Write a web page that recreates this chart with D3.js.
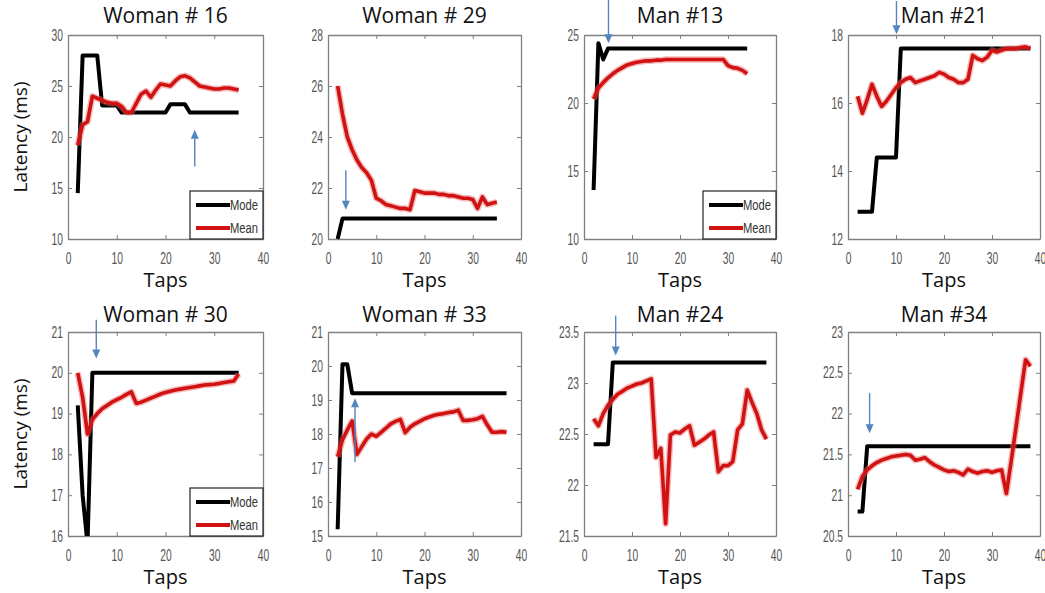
<!doctype html>
<meta charset="utf-8">
<style>
body { margin: 0; background: #fff; }
.title, .xlab, .ylab { font-family: "Open Sans", sans-serif; fill: #111; }
.tick text { font-family: "Liberation Sans", Arial, sans-serif; fill: #555; }
.legend text { font-family: "Liberation Sans", Arial, sans-serif; font-size: 14px; fill: #333; }
</style>
<body>
<div id="viz"></div>
<script src="https://cdnjs.cloudflare.com/ajax/libs/d3/7.8.5/d3.min.js"></script>
<script>
// values, one tap per entry starting at tap 2
var firstTap = 2;
var titles = ["Woman # 16", "Woman # 29", "Man #13", "Man #21", "Woman # 30", "Woman # 33", "Man #24", "Man #34"];

var w16Mode = [14.5, 28, 28, 28, 28, 23.1, 23.1, 23.1, 23.1, 22.4, 22.4, 22.4, 22.4, 22.4, 22.4, 22.4, 22.4, 22.4, 22.4,
  23.2, 23.2, 23.2, 23.2, 22.4, 22.4, 22.4, 22.4, 22.4, 22.4, 22.4, 22.4, 22.4, 22.4, 22.4];
var w16Mean = [19.2, 21.2, 21.5, 24.0, 23.8, 23.6, 23.4, 23.3, 23.3, 23.0, 22.4, 22.4, 23.3, 24.2, 24.5, 23.9, 24.6,
  25.2, 25.1, 25.0, 25.5, 25.9, 26.0, 25.8, 25.4, 25.0, 24.9, 24.8, 24.7, 24.7, 24.8, 24.8, 24.7, 24.6];

var w29Mode = [20.0, 20.8, 20.8, 20.8, 20.8, 20.8, 20.8, 20.8, 20.8, 20.8, 20.8, 20.8, 20.8, 20.8, 20.8, 20.8, 20.8,
  20.8, 20.8, 20.8, 20.8, 20.8, 20.8, 20.8, 20.8, 20.8, 20.8, 20.8, 20.8, 20.8, 20.8, 20.8, 20.8, 20.8];
var w29Mean = [26.0, 24.9, 24.0, 23.5, 23.1, 22.8, 22.6, 22.3, 21.6, 21.5, 21.35, 21.3, 21.25, 21.2, 21.2, 21.15,
  21.9, 21.85, 21.8, 21.8, 21.8, 21.75, 21.75, 21.7, 21.7, 21.65, 21.6, 21.6, 21.55, 21.2, 21.65, 21.35, 21.4, 21.45];

var m13Mode = [13.6, 24.4, 23.2, 24, 24, 24, 24, 24, 24, 24, 24, 24, 24, 24, 24, 24, 24, 24, 24, 24, 24, 24, 24, 24,
  24, 24, 24, 24, 24, 24, 24, 24, 24];
var m13Mean = [20.3, 21.1, 21.5, 21.85, 22.15, 22.4, 22.6, 22.8, 22.9, 23.0, 23.05, 23.1, 23.1, 23.15, 23.15,
  23.2, 23.2, 23.2, 23.2, 23.2, 23.2, 23.2, 23.2, 23.2, 23.2, 23.2, 23.2, 23.2, 22.75, 22.6, 22.55, 22.4, 22.15];

var m21Mode = [12.8, 12.8, 12.8, 12.8, 14.4, 14.4, 14.4, 14.4, 14.4, 17.6, 17.6, 17.6, 17.6, 17.6, 17.6, 17.6, 17.6,
  17.6, 17.6, 17.6, 17.6, 17.6, 17.6, 17.6, 17.6, 17.6, 17.6, 17.6, 17.6, 17.6, 17.6, 17.6, 17.6, 17.6, 17.6, 17.6, 17.6];
var m21Mean = [16.2, 15.7, 16.1, 16.55, 16.2, 15.9, 16.05, 16.25, 16.45, 16.6, 16.7, 16.75, 16.6, 16.65, 16.7, 16.75,
  16.8, 16.9, 16.85, 16.75, 16.7, 16.6, 16.6, 16.7, 17.4, 17.3, 17.25, 17.35, 17.55, 17.5, 17.55, 17.6, 17.6, 17.6,
  17.63, 17.65, 17.6];

var w30Mode = [19.2, 17.0, 15.8, 20, 20, 20, 20, 20, 20, 20, 20, 20, 20, 20, 20, 20, 20, 20, 20, 20, 20, 20, 20, 20,
  20, 20, 20, 20, 20, 20, 20, 20, 20, 20];
var w30Mean = [20.0, 19.4, 18.5, 18.85, 19.0, 19.12, 19.2, 19.28, 19.34, 19.4, 19.47, 19.53, 19.25, 19.28, 19.33,
  19.38, 19.43, 19.48, 19.52, 19.55, 19.58, 19.6, 19.62, 19.64, 19.66, 19.68, 19.7, 19.71, 19.72, 19.74, 19.76,
  19.78, 19.8, 19.97];

var w33Mode = [15.2, 20.05, 20.05, 19.2, 19.2, 19.2, 19.2, 19.2, 19.2, 19.2, 19.2, 19.2, 19.2, 19.2, 19.2, 19.2, 19.2,
  19.2, 19.2, 19.2, 19.2, 19.2, 19.2, 19.2, 19.2, 19.2, 19.2, 19.2, 19.2, 19.2, 19.2, 19.2, 19.2, 19.2, 19.2, 19.2];
var w33Mean = [17.33, 17.83, 18.12, 18.38, 17.4, 17.63, 17.85, 18.0, 17.93, 18.05, 18.17, 18.3, 18.37, 18.43, 18.04,
  18.2, 18.3, 18.37, 18.45, 18.5, 18.55, 18.58, 18.6, 18.63, 18.65, 18.7, 18.4, 18.4, 18.42, 18.45, 18.52, 18.27,
  18.05, 18.05, 18.07, 18.05];

var m24Mode = [22.4, 22.4, 22.4, 22.4, 23.2, 23.2, 23.2, 23.2, 23.2, 23.2, 23.2, 23.2, 23.2, 23.2, 23.2, 23.2, 23.2,
  23.2, 23.2, 23.2, 23.2, 23.2, 23.2, 23.2, 23.2, 23.2, 23.2, 23.2, 23.2, 23.2, 23.2, 23.2, 23.2, 23.2, 23.2, 23.2, 23.2];
var m24Mean = [22.65, 22.58, 22.7, 22.78, 22.84, 22.89, 22.92, 22.95, 22.97, 22.99, 23.0, 23.02, 23.04, 22.27, 22.36,
  21.62, 22.49, 22.52, 22.51, 22.55, 22.58, 22.39, 22.42, 22.45, 22.49, 22.52, 22.13, 22.19, 22.19, 22.23, 22.54,
  22.6, 22.93, 22.81, 22.7, 22.54, 22.45];

var m34Mode = [20.8, 20.8, 21.6, 21.6, 21.6, 21.6, 21.6, 21.6, 21.6, 21.6, 21.6, 21.6, 21.6, 21.6, 21.6, 21.6, 21.6,
  21.6, 21.6, 21.6, 21.6, 21.6, 21.6, 21.6, 21.6, 21.6, 21.6, 21.6, 21.6, 21.6, 21.6, 21.6, 21.6, 21.6, 21.6, 21.6, 21.6];
var m34Mean = [21.07, 21.23, 21.31, 21.36, 21.4, 21.43, 21.45, 21.47, 21.48, 21.49, 21.5, 21.49, 21.43, 21.44, 21.46,
  21.41, 21.37, 21.34, 21.31, 21.29, 21.3, 21.28, 21.25, 21.32, 21.29, 21.27, 21.29, 21.3, 21.28, 21.3, 21.31,
  21.02, 21.42, 21.83, 22.25, 22.66, 22.58];

// axis ranges and tick labels
var xTicks = [0, 10, 20, 30, 40];
var yDomains = [[10, 30], [20, 28], [10, 25], [12, 18], [16, 21], [15, 21], [21.5, 23.5], [20.5, 23]];
var yTicks = [
  [10, 15, 20, 25, 30], [20, 22, 24, 26, 28], [10, 15, 20, 25], [12, 14, 16, 18],
  [16, 17, 18, 19, 20, 21], [15, 16, 17, 18, 19, 20, 21], [21.5, 22, 22.5, 23, 23.5], [20.5, 21, 21.5, 22, 22.5, 23]
];
// blue arrows: [tap, from latency, to latency]
var arrows = [[26, 17.1, 20.7], [3.7, 22.7, 21.15], [5.1, 27.6, 24.4], [10.1, 19.0, 18.02],
  [5.8, 21.3, 20.35], [5.6, 17.18, 19.05], [6.6, 23.66, 23.27], [4.5, 22.25, 21.76]];
var legendPanels = [0, 2, 4];

var modes = [w16Mode, w29Mode, m13Mode, m21Mode, w30Mode, w33Mode, m24Mode, m34Mode];
var means = [w16Mean, w29Mean, m13Mean, m21Mean, w30Mean, w33Mean, m24Mean, m34Mean];

var lefts = [68, 328, 584, 848], widths = [195, 193, 192, 192];
var tops = [35, 332], h = 204, titleDy = [-12, -10];
var red = "#d01212", blue = "#5385bf", squeeze = 0.64;

var svg = d3.select("#viz").append("svg").attr("width", 1045).attr("height", 593);

titles.forEach(function(t, i) {
  var col = i % 4, row = Math.floor(i / 4), w = widths[col];
  var g = svg.append("g").attr("transform", "translate(" + lefts[col] + "," + tops[row] + ")");
  var x = d3.scaleLinear().domain([0, 40]).range([0, w]);
  var y = d3.scaleLinear().domain(yDomains[i]).range([h, 0]);

  g.append("clipPath").attr("id", "clip" + i).append("rect").attr("width", w).attr("height", h);

  // box with inward ticks on all sides
  var ax = [
    ["translate(0," + h + ")", d3.axisBottom(x).tickValues(xTicks).tickFormat(String)],
    ["translate(0,0)", d3.axisTop(x).tickValues(xTicks).tickFormat("")],
    ["translate(0,0)", d3.axisLeft(y).tickValues(yTicks[i]).tickFormat(String)],
    ["translate(" + w + ",0)", d3.axisRight(y).tickValues(yTicks[i]).tickFormat("")]
  ];
  ax.forEach(function(a, k) {
    var s = g.append("g").attr("transform", a[0])
      .call(a[1].tickSizeInner(-4).tickSizeOuter(0).tickPadding(k == 0 ? 14 : 6));
    s.select(".domain").attr("stroke", "#808080").attr("stroke-width", 1.3);
    s.selectAll(".tick line").attr("stroke", "#808080");
    if (k == 0) s.selectAll(".tick text").attr("font-size", 16).attr("transform", "scale(" + squeeze + ",1)");
    if (k == 2) s.selectAll(".tick text").attr("font-size", 16).attr("x", -5 / squeeze)
      .attr("transform", "scale(" + squeeze + ",1)");
  });

  var line = d3.line().x(function(d, j) { return x(firstTap + j); }).y(function(d) { return y(d); });
  var lg = g.append("g").attr("clip-path", "url(#clip" + i + ")");
  lg.append("path").datum(modes[i]).attr("d", line).attr("fill", "none")
    .attr("stroke", "#000").attr("stroke-width", 4).attr("stroke-linejoin", "round");
  lg.append("path").datum(means[i]).attr("d", line).attr("fill", "none")
    .attr("stroke", "#e86a6a").attr("stroke-opacity", 0.45).attr("stroke-width", 6.5).attr("stroke-linejoin", "round");
  lg.append("path").datum(means[i]).attr("d", line).attr("fill", "none")
    .attr("stroke", red).attr("stroke-width", 3.6).attr("stroke-linejoin", "round");

  // arrow
  var a = arrows[i], ax0 = x(a[0]), y0 = y(a[1]), y1 = y(a[2]), dir = y1 > y0 ? 1 : -1;
  g.append("line").attr("x1", ax0).attr("x2", ax0).attr("y1", y0).attr("y2", y1 - dir * 8)
    .attr("stroke", blue).attr("stroke-width", 1.4);
  g.append("path").attr("fill", blue)
    .attr("d", "M" + ax0 + "," + y1 + "L" + (ax0 - 4) + "," + (y1 - dir * 9) + "L" + (ax0 + 4) + "," + (y1 - dir * 9) + "Z");

  if (legendPanels.indexOf(i) >= 0) {
    var leg = g.append("g").attr("class", "legend").attr("transform", "translate(" + (w - 73) + "," + (h - 48) + ")");
    leg.append("rect").attr("width", 73).attr("height", 48).attr("fill", "#fff").attr("stroke", "#222").attr("stroke-width", 1.2);
    [["Mode", "#000", 14], ["Mean", red, 37]].forEach(function(e) {
      leg.append("line").attr("x1", 6).attr("x2", 40).attr("y1", e[2]).attr("y2", e[2])
        .attr("stroke", e[1]).attr("stroke-width", 4);
      leg.append("text").attr("x", 40).attr("y", e[2] + 5)
        .attr("textLength", 28).attr("lengthAdjust", "spacingAndGlyphs").text(e[0]);
    });
  }

  g.append("text").attr("class", "title").attr("x", w / 2).attr("y", titleDy[row])
    .attr("text-anchor", "middle").attr("font-size", 21).text(t);
  g.append("text").attr("class", "xlab").attr("x", w / 2).attr("y", h + 48)
    .attr("text-anchor", "middle").attr("font-size", 20).text("Taps");
  if (col == 0) {
    g.append("text").attr("class", "ylab").attr("transform", "translate(" + (27 - lefts[0]) + "," + (h / 2) + ") rotate(-90)")
      .attr("text-anchor", "middle").attr("font-size", 19).text("Latency (ms)");
  }
});
</script>
</body>
</html>
